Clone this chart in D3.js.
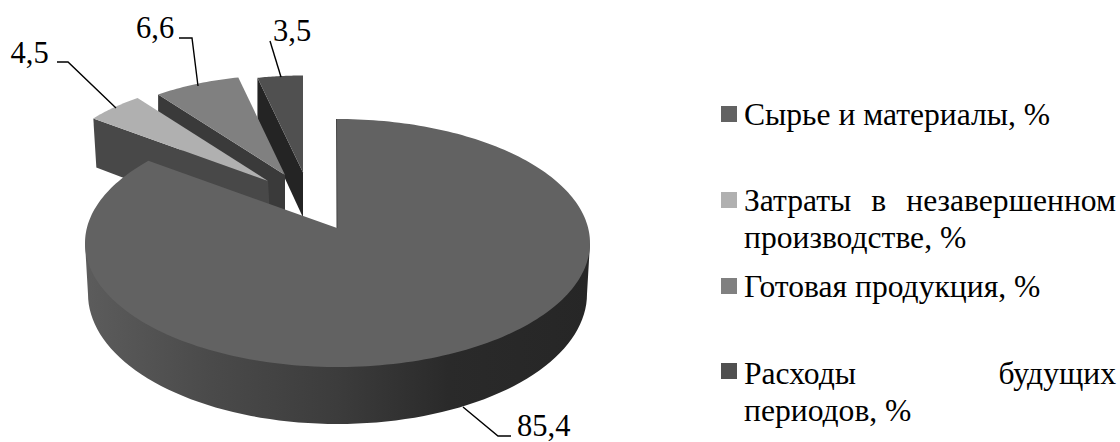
<!DOCTYPE html>
<html>
<head>
<meta charset="utf-8">
<script src="https://cdn.jsdelivr.net/npm/d3@7"></script>
<style>
html,body{margin:0;padding:0;background:#fff}
svg{display:block}
text{font-family:"Liberation Serif",serif;fill:#000}
</style>
</head>
<body>
<svg id="chart" width="1120" height="442"></svg>
<script>
// Inventory structure, percent of total
const categories = ["Сырье и материалы, %", "Затраты в незавершенном производстве, %", "Готовая продукция, %", "Расходы будущих периодов, %"];
const values = [85.4, 4.5, 6.6, 3.5];
const valueLabels = ["85,4", "4,5", "6,6", "3,5"];
const topColors = ["#626262", "#b0b0b0", "#808080", "#505050"];
const wallColors = ["#3a3a3a", "#484848", "#3a3a3a", "#242424"];
const legendLines = [
  ["Сырье и материалы, %"],
  ["Затраты в незавершенном", "производстве, %"],
  ["Готовая продукция, %"],
  ["Расходы будущих", "периодов, %"]
];

const svg = d3.select("#chart");
const TILT = 0.465;   // vertical squash of the pie plane

// Placement of each exploded piece on the page
const pieces = [
  {apex:[337,228], rx:252.5, cx:337.5, cy:243, ry:124, depth:57},
  {apex:[268,181], rx:220, ry:103, depth:49, shift:3},
  {apex:[285,175], rx:214, ry:100, depth:40, shift:0},
  {apex:[303,172.5], rx:209, ry:97, depth:41, shift:0}
];

const arcs = d3.pie().sort(null).value(d => d).startAngle(0).endAngle(2 * Math.PI)(values);

// A point on the rim of a piece for an angle measured clockwise from twelve o'clock
function rim(p, a) {
  if (p.cx === undefined) {
    return [p.apex[0] + p.rx * Math.sin(a), p.apex[1] - p.ry * Math.cos(a)];
  }
  // Large piece: perspective puts its apex off the ellipse centre, so cast a ray to the ellipse
  const dx = Math.sin(a), dy = -TILT * Math.cos(a);
  const ox = (p.apex[0] - p.cx) / p.rx, oy = (p.apex[1] - p.cy) / p.ry;
  const ux = dx / p.rx, uy = dy / p.ry;
  const A = ux * ux + uy * uy, B = 2 * (ox * ux + oy * uy), C = ox * ox + oy * oy - 1;
  const t = (-B + Math.sqrt(B * B - 4 * A * C)) / (2 * A);
  return [p.apex[0] + t * dx, p.apex[1] + t * dy];
}

const line = d3.line();
const sample = (a0, a1, n) => d3.range(n + 1).map(i => a0 + (a1 - a0) * i / n);

// Horizontal shading of the large piece's rim
const defs = svg.append("defs");
const grad = defs.append("linearGradient").attr("id", "rimShade")
  .attr("gradientUnits", "userSpaceOnUse").attr("x1", 85).attr("x2", 590).attr("y1", 0).attr("y2", 0);
[[0, "#5c5c5c"], [0.25, "#4a4a4a"], [0.5, "#3c3c3c"], [0.72, "#2a2a2a"], [1, "#262626"]]
  .forEach(([o, c]) => grad.append("stop").attr("offset", o).attr("stop-color", c));

// Large piece rim: closed at the bottom by a slightly narrower lower ellipse
function drawBigRim(p) {
  const botRx = p.rx - 3, botRy = 130, botCy = 294;
  const lower = sample(-Math.PI / 2, Math.PI / 2, 80).map(t => [p.cx + botRx * Math.sin(t), botCy + botRy * Math.cos(t)]);
  const pts = [[p.cx - p.rx, p.cy]].concat(lower, [[p.cx + p.rx, p.cy]]);
  svg.append("path").attr("d", line(pts) + "Z").attr("fill", "url(#rimShade)");
}

// Back pieces are painted far to near, then the large piece covers their lower walls
[3, 2, 1].forEach(i => {
  const p = pieces[i], arc = arcs[i];
  const a0 = arc.startAngle - 2 * Math.PI, a1 = arc.endAngle - 2 * Math.PI;
  const outer = rim(p, a0);
  const s = p.shift;
  const wall = [p.apex, outer, [outer[0] + s, outer[1] + p.depth], [p.apex[0] + s, p.apex[1] + p.depth + 4]];
  svg.append("path").attr("d", line(wall) + "Z").attr("fill", wallColors[i]);
  const top = [p.apex].concat(sample(a0, a1, 24).map(a => rim(p, a)));
  svg.append("path").attr("d", line(top) + "Z").attr("fill", topColors[i]);
});

{
  const p = pieces[0], arc = arcs[0];
  drawBigRim(p);
  const top = [p.apex].concat(sample(arc.startAngle, arc.endAngle, 240).map(a => rim(p, a)));
  svg.append("path").attr("d", line(top) + "Z").attr("fill", topColors[0]);
  // Thin visible sliver of the cut wall along the notch
  const edge = rim(p, 0);
  svg.append("line").attr("x1", edge[0] - 0.5).attr("y1", edge[1]).attr("x2", p.apex[0]).attr("y2", p.apex[1])
    .attr("stroke", "#444").attr("stroke-width", 1);
}

// Value labels with their elbow leaders
const leaders = [
  {path:[[463,407],[498,436],[511,436]], x:517, y:435.5},
  {path:[[116,108],[68,62],[57,62]], x:10.5, y:63},
  {path:[[198,86],[192,38],[179,38]], x:136, y:38},
  {path:[[281,77],[270,41]], x:273, y:41}
];
leaders.forEach((l, i) => {
  svg.append("path").attr("d", line(l.path)).attr("fill", "none").attr("stroke", "#000").attr("stroke-width", 1.4);
  svg.append("text").attr("x", l.x).attr("y", l.y).attr("font-size", 30.5).text(valueLabels[i]);
});

// Legend; first lines of wrapped entries are justified to the right margin
const legendX = 721, textX = 744, rightEdge = 1116, lineGap = 36.5;
const swatchTops = [106, 192, 278, 363];
const firstBaselines = [125, 211, 297, 384];
categories.forEach((c, i) => {
  svg.append("rect").attr("x", legendX).attr("y", swatchTops[i]).attr("width", 16).attr("height", 16).attr("fill", topColors[i]);
  legendLines[i].forEach((txt, j) => {
    const t = svg.append("text").attr("x", textX).attr("y", firstBaselines[i] + j * lineGap)
      .attr("font-size", 31.6).text(txt);
    if (legendLines[i].length > 1 && j === 0) {
      const gaps = txt.split(" ").length - 1;
      const extra = (rightEdge - textX - t.node().getComputedTextLength()) / gaps;
      t.style("word-spacing", extra + "px");
    }
  });
});
</script>
</body>
</html>
